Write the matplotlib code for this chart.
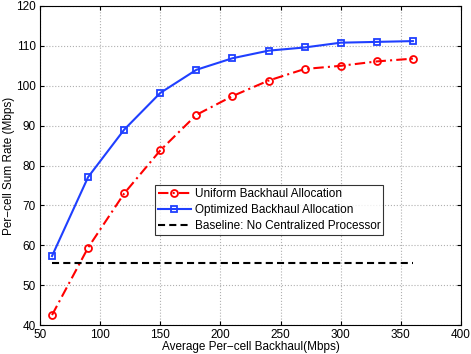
import matplotlib
matplotlib.use("Agg")
import matplotlib.pyplot as plt

plt.rcParams['font.family'] = ['Liberation Sans', 'DejaVu Sans']

backhaul = [60, 90, 120, 150, 180, 210, 240, 270, 300, 330, 360]
uniform = [42.5, 59.4, 73.0, 83.8, 92.7, 97.4, 101.3, 104.2, 105.0, 106.1, 106.8]
optimized = [57.3, 77.1, 89.0, 98.2, 104.0, 106.9, 108.8, 109.6, 110.8, 111.0, 111.2]
baseline = [55.5] * len(backhaul)

fig = plt.figure(figsize=(4.71, 3.54), dpi=100)
ax = fig.add_axes([40/471, 1-325/354, 421/471, 319/354])

ax.plot(backhaul, uniform, color='#ff0000', linestyle=(0, (5, 2, 1, 2)), linewidth=1.5,
        marker='o', markersize=5, markerfacecolor='none', markeredgewidth=1.3,
        label='Uniform Backhaul Allocation')
ax.plot(backhaul, optimized, color='#1f3fff', linestyle='-', linewidth=1.5,
        marker='s', markersize=4.5, markerfacecolor='none', markeredgewidth=1.3,
        label='Optimized Backhaul Allocation')
ax.plot(backhaul, baseline, color='black', linestyle=(0, (3.4, 2.0)), linewidth=1.5,
        label='Baseline: No Centralized Processor')

ax.set_xlim(50, 400)
ax.set_ylim(40, 120)
ax.set_xticks(range(50, 401, 50))
ax.set_yticks(range(40, 121, 10))
ax.grid(True, linestyle=':', color='#b0b0b0', linewidth=0.8)
ax.tick_params(direction='in', labelsize=8.5, top=True, right=True, length=3, pad=3)
for s in ax.spines.values():
    s.set_linewidth(0.8)
ax.set_xlabel('Average Per\u2212cell Backhaul(Mbps)', fontsize=8.5)
ax.set_ylabel('Per\u2212cell Sum Rate (Mbps)', fontsize=8.5)
ax.xaxis.set_label_coords(0.5, -0.050)
ax.yaxis.set_label_coords(-0.059, 0.5)

leg = ax.legend(loc='upper left', bbox_to_anchor=((155-40)/421, (325-185)/319),
                fontsize=8.5, frameon=True, fancybox=False,
                edgecolor='black', handlelength=2.8, borderaxespad=0,
                labelspacing=0.33, handletextpad=0.3, borderpad=0.25)
leg.get_frame().set_linewidth(0.8)

fig.savefig('out.png', dpi=100)
